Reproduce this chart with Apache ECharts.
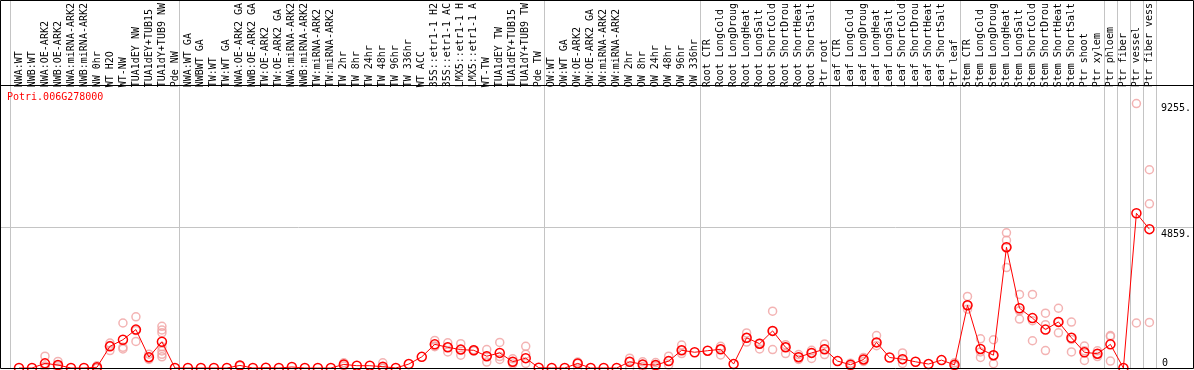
<!DOCTYPE html>
<html>
<head>
<meta charset="UTF-8">
<title>Potri.006G278000</title>
<style>
  html, body { margin: 0; padding: 0; background: #fff; }
  #main { width: 1194px; height: 370px; }
</style>
</head>
<body>
<div id="main"></div>
<script src="https://cdn.jsdelivr.net/npm/echarts@6/dist/echarts.min.js"></script>
<script>
var geneName = 'Potri.006G278000';

var sampleNames = [
  'NWA:WT', 'NWB:WT', 'NWA:OE-ARK2', 'NWB:OE-ARK2', 'NWA:miRNA-ARK2', 'NWB:miRNA-ARK2', 'NW 0hr', 'WT H2O', 'WT-NW',
  'TUA1dEY NW', 'TUA1dEY+TUB15', 'TUA1dY+TUB9 NW', 'Pde NW',
  'NWA:WT GA', 'NWBWT GA', 'TW:WT', 'TW:WT GA', 'NWA:OE-ARK2 GA', 'NWB:OE-ARK2 GA', 'TW:OE-ARK2', 'TW:OE-ARK2 GA',
  'NWA:miRNA-ARK2', 'NWB:miRNA-ARK2', 'TW:miRNA-ARK2', 'TW:miRNA-ARK2', 'TW 2hr', 'TW 8hr', 'TW 24hr', 'TW 48hr',
  'TW 96hr', 'TW 336hr', 'WT ACC', '35S::etr1-1 H2', '35S::etr1-1 AC', 'LMX5::etr1-1 H', 'LMX5::etr1-1 A', 'WT-TW',
  'TUA1dEY TW', 'TUA1dEY+TUB15', 'TUA1dY+TUB9 TW', 'Pde TW',
  'OW:WT', 'OW:WT GA', 'OW:OE-ARK2', 'OW:OE-ARK2 GA', 'OW:miRNA-ARK2', 'OW:miRNA-ARK2', 'OW 2hr', 'OW 8hr',
  'OW 24hr', 'OW 48hr', 'OW 96hr', 'OW 336hr',
  'Root CTR', 'Root LongCold', 'Root LongDroug', 'Root LongHeat', 'Root LongSalt', 'Root ShortCold', 'Root ShortDrou',
  'Root ShortHeat', 'Root ShortSalt', 'Ptr root',
  'Leaf CTR', 'Leaf LongCold', 'Leaf LongDroug', 'Leaf LongHeat', 'Leaf LongSalt', 'Leaf ShortCold', 'Leaf ShortDrou',
  'Leaf ShortHeat', 'Leaf ShortSalt', 'Ptr leaf',
  'Stem CTR', 'Stem LongCold', 'Stem LongDroug', 'Stem LongHeat', 'Stem LongSalt', 'Stem ShortCold', 'Stem ShortDrou',
  'Stem ShortHeat', 'Stem ShortSalt', 'Ptr shoot', 'Ptr xylem',
  'Ptr phloem', 'Ptr fiber', 'Ptr vessel', 'Ptr fiber vess'
];

// first sample index of each group (plus the end)
var groupStarts = [0, 13, 41, 53, 63, 73, 84, 85, 86, 87, 88];

// mean expression per sample
var meanValues = [
  0, 0, 162, 103, 0, 0, 25, 758, 989, 1344, 379, 919, 0,
  0, 0, 0, 0, 90, 0, 10, 0, 35, 0, 0, 0, 126, 80, 80, 46, 0, 138, 390, 827, 724, 643, 620, 413, 528, 218, 345, 10,
  0, 0, 161, 0, 0, 0, 218, 126, 103, 241, 620, 551,
  605, 655, 138, 1057, 850, 1298, 724, 379, 528, 655,
  241, 115, 299, 896, 368, 310, 218, 138, 276, 110,
  2195, 666, 448, 4228, 2091, 1746, 1344, 1614, 1056, 550, 500,
  827, 0, 5415, 4859
];

// replicate values, keyed by sample index
var replicateValues = {
  2: [414, 72, 0], 3: [230, 80, 0], 6: [75, 0, 0], 7: [872, 790, 610], 8: [1575, 724, 668],
  9: [1792, 930, 1310], 10: [482, 356, 299], 11: [1458, 1330, 1230, 740, 596, 480, 390],
  17: [100, 80], 25: [183, 126, 70], 28: [183, 0, 0], 32: [965, 770, 745], 33: [880, 730, 562],
  34: [850, 643, 448], 35: [640, 620, 600], 36: [643, 413, 207], 37: [896, 400, 299], 38: [322, 218, 138],
  39: [758, 482, 161], 43: [207, 161, 0], 47: [345, 218, 0], 48: [218, 126, 40], 49: [190, 100, 40],
  50: [413, 241, 103], 51: [804, 620, 505], 54: [758, 655, 459], 56: [1229, 1057, 907], 57: [870, 850, 666],
  58: [1987, 1298, 643], 59: [815, 724, 505], 60: [471, 379, 299], 61: [620, 528, 333], 62: [838, 655, 471],
  64: [170, 115, 60], 65: [368, 299, 230], 66: [1137, 896, 781], 68: [528, 310, 161], 72: [180, 115, 60],
  73: [2505, 2195, 2057], 74: [1022, 562, 368], 75: [988, 448, 149], 76: [4732, 4469, 4228, 3515],
  77: [2574, 2000, 1712], 78: [2574, 1654, 953], 79: [1919, 1516, 609], 80: [2091, 1614, 1230],
  81: [1608, 1000, 562], 82: [770, 600, 264], 83: [600, 500, 400], 84: [1137, 1100, 241],
  86: [9255, 1575], 87: [6937, 5744, 1596]
};

var yMax = 9718;
var yTickValues = [4859, 9255];
var yTickLabels = ['4859.', '9255.'];
var yZeroLabel = '0';

var repPoints = [];
Object.keys(replicateValues).forEach(function (k) {
  replicateValues[k].forEach(function (v) {
    repPoints.push([Number(k), v]);
  });
});

var monoFont = 'DejaVu Sans Mono';
var myChart = echarts.init(document.getElementById('main'));
var option = {
  animation: false,
  title: {
    text: geneName,
    left: 2,
    top: 87,
    textStyle: { color: '#ff0000', fontSize: 10, fontWeight: 'normal', fontFamily: monoFont }
  },
  grid: [
    // separators
    { left: 10, right: 38, top: 0, bottom: 1 },
    // data
    { left: 12.5, right: 35.5, top: 86, bottom: 2 },
    // full width band for the 4859 line
    { left: 0, right: 0, top: 86, bottom: 2 }
  ],
  xAxis: [
    {
      gridIndex: 0, type: 'category', data: sampleNames, boundaryGap: true,
      axisLine: { show: false }, axisTick: { show: false }, axisLabel: { show: false },
      splitLine: {
        show: true,
        interval: function (index) { return groupStarts.indexOf(index) >= 0; },
        lineStyle: { color: '#c4c4c4', width: 1 }
      }
    },
    {
      gridIndex: 1, type: 'category', data: sampleNames, boundaryGap: true, position: 'top',
      axisLine: { show: false }, axisTick: { show: false }, splitLine: { show: false },
      axisLabel: {
        interval: 0, rotate: 90, margin: 3, color: '#000',
        fontSize: 10, fontFamily: monoFont
      }
    },
    { gridIndex: 2, type: 'value', min: 0, max: 1, show: false, splitLine: { show: false } }
  ],
  yAxis: [
    {
      gridIndex: 1, type: 'value', min: 0, max: yMax, position: 'right',
      axisLine: { show: false }, axisTick: { show: false }, splitLine: { show: false },
      axisLabel: {
        customValues: yTickValues, margin: 5, verticalAlign: 'top',
        color: '#000', fontSize: 10, fontFamily: monoFont,
        formatter: function (v) { return yTickLabels[yTickValues.indexOf(v)]; }
      }
    },
    {
      gridIndex: 1, type: 'value', min: 0, max: yMax, position: 'right',
      axisLine: { show: false }, axisTick: { show: false }, splitLine: { show: false },
      axisLabel: {
        customValues: [0], margin: 6, verticalAlign: 'bottom',
        color: '#000', fontSize: 10, fontFamily: monoFont,
        formatter: function () { return yZeroLabel; }
      }
    },
    {
      gridIndex: 2, type: 'value', min: 0, max: yMax, interval: 4859,
      axisLine: { show: false }, axisTick: { show: false }, axisLabel: { show: false },
      splitLine: { show: true, lineStyle: { color: ['transparent', '#c4c4c4', 'transparent'], width: 1 } }
    },
    {
      gridIndex: 0, type: 'value', min: 0, max: 1, show: false, splitLine: { show: false }
    }
  ],
  graphic: [
    {
      type: 'rect', z: 100, silent: true,
      shape: { x: 0.5, y: 0.5, width: 1193, height: 368 },
      style: { fill: null, stroke: '#000', lineWidth: 1 }
    },
    {
      type: 'line', z: 100, silent: true,
      shape: { x1: 0, y1: 85.5, x2: 1194, y2: 85.5 },
      style: { stroke: '#000', lineWidth: 1 }
    }
  ],
  series: [
    {
      name: 'replicates', type: 'scatter', xAxisIndex: 1, yAxisIndex: 0,
      data: repPoints, symbol: 'circle', symbolSize: 8, z: 2,
      itemStyle: { color: 'rgba(0,0,0,0)', borderColor: '#f0a0a0', borderWidth: 1.5 }
    },
    {
      name: 'mean', type: 'line', xAxisIndex: 1, yAxisIndex: 0,
      data: meanValues, symbol: 'circle', symbolSize: 9, showAllSymbol: true, z: 3,
      lineStyle: { color: '#ff0000', width: 1 },
      itemStyle: { color: 'rgba(0,0,0,0)', borderColor: '#ff0000', borderWidth: 1.5 }
    }
  ]
};
myChart.setOption(option);
</script>
</body>
</html>
